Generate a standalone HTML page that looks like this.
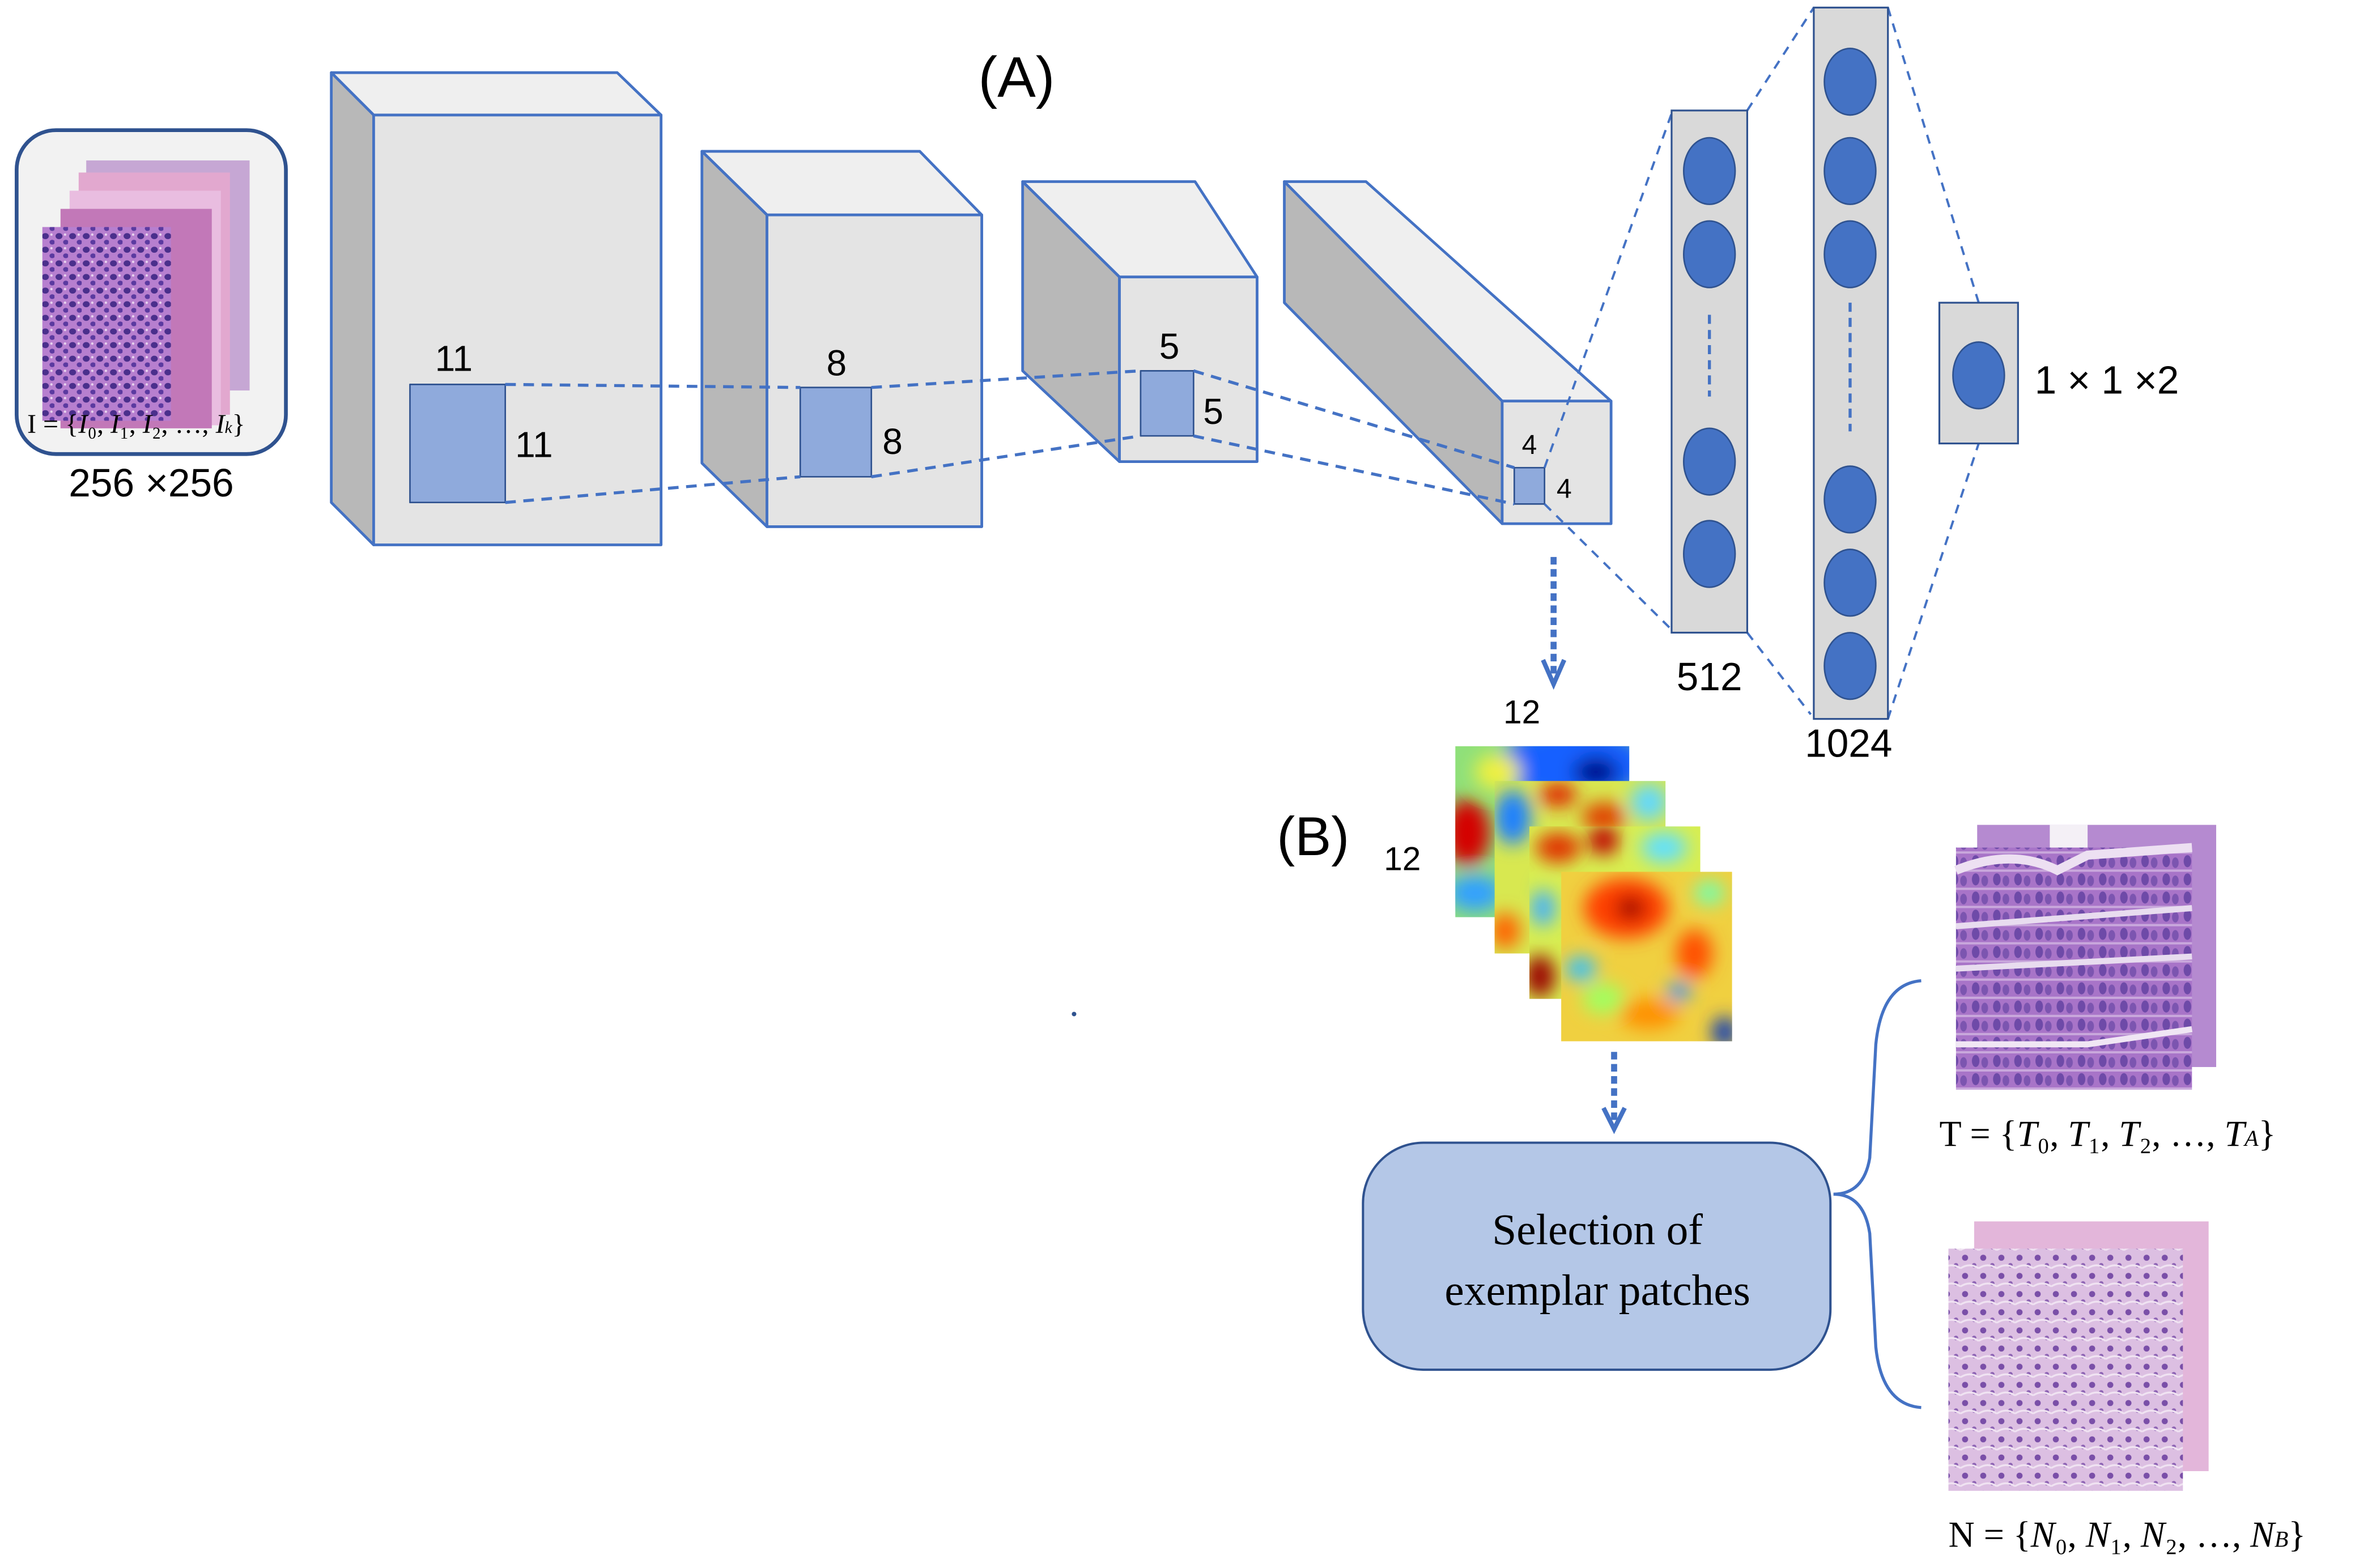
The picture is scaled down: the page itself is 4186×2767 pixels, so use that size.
<!DOCTYPE html>
<html><head><meta charset="utf-8"><style>
html,body{margin:0;padding:0;background:#fff;width:4186px;height:2767px;overflow:hidden}
svg{display:block}
text{font-family:"Liberation Sans",sans-serif;fill:#000}
.s{font-family:"Liberation Serif",serif}
</style></head><body>
<svg width="4186" height="2767" viewBox="0 0 1568 1036" preserveAspectRatio="none" xmlns="http://www.w3.org/2000/svg">
<defs>
<pattern id="cells" width="9" height="9" patternUnits="userSpaceOnUse">
<rect width="9" height="9" fill="#b77fcf"/>
<ellipse cx="3" cy="3" rx="2.3" ry="2" fill="#4a2f8c"/>
<ellipse cx="7.5" cy="7" rx="1.8" ry="1.6" fill="#5b3aa0"/>
<circle cx="7" cy="2" r="0.8" fill="#e8d4ef"/>
</pattern>
<pattern id="tum" width="14" height="12" patternUnits="userSpaceOnUse">
<rect width="14" height="12" fill="#a874c8"/>
<ellipse cx="4" cy="5" rx="2.5" ry="4" fill="#6e4aa8"/>
<ellipse cx="10" cy="6" rx="2.2" ry="3.5" fill="#7c55b0"/>
<rect y="10.5" width="14" height="1.5" fill="#c9a8dc"/>
</pattern>
<pattern id="nor" width="12" height="12" patternUnits="userSpaceOnUse">
<rect width="12" height="12" fill="#dcbfe2"/>
<circle cx="3" cy="3" r="2" fill="#7a4fa8"/>
<circle cx="9" cy="8" r="1.5" fill="#8c62b3"/>
<path d="M0 10 Q6 6 12 10" stroke="#f0e3f2" stroke-width="1.2" fill="none"/>
</pattern>
<filter id="bl"><feGaussianBlur stdDeviation="6"/></filter>
<clipPath id="c1"><rect x="962" y="493" width="115" height="113"/></clipPath>
<clipPath id="c2"><rect x="988" y="516" width="113" height="114"/></clipPath>
<clipPath id="c3"><rect x="1011" y="546" width="113" height="114"/></clipPath>
<clipPath id="c4"><rect x="1032" y="576" width="113" height="112"/></clipPath>
</defs>

<!-- input box -->
<rect x="11" y="86" width="178" height="214" rx="26" fill="#f2f2f2" stroke="#2f528f" stroke-width="2.5"/>
<rect x="57" y="106" width="108" height="152" fill="#c6a7d4"/>
<rect x="52" y="114" width="100" height="160" fill="#e2a8cf"/>
<rect x="46" y="126" width="100" height="155" fill="#e9bde0"/>
<rect x="40" y="138" width="100" height="145" fill="#c278b8"/>
<rect x="28" y="150" width="85" height="128" fill="url(#cells)"/>
<text x="18" y="286" class="s" font-size="18">I = {<tspan font-style="italic">I</tspan>₀, <tspan font-style="italic">I</tspan>₁, <tspan font-style="italic">I</tspan>₂, …, <tspan font-style="italic">I<tspan font-size="11">k</tspan></tspan>}</text>
<text x="100" y="328" font-size="26" text-anchor="middle">256 ×256</text>

<text x="672" y="64" font-size="38" text-anchor="middle">(A)</text>

<g stroke="#4472c4" stroke-width="1.8" stroke-linejoin="round">
<polygon points="219,48 408,48 437,76 247,76" fill="#efefef"/>
<polygon points="219,48 247,76 247,360 219,332" fill="#b8b8b8"/>
<rect x="247" y="76" width="190" height="284" fill="#e4e4e4"/>
<rect x="271" y="254" width="63" height="78" fill="#8faadc" stroke="#2f528f" stroke-width="1"/>
<polygon points="464,100 608,100 649,142 507,142" fill="#efefef"/>
<polygon points="464,100 507,142 507,348 464,306" fill="#b8b8b8"/>
<rect x="507" y="142" width="142" height="206" fill="#e4e4e4"/>
<rect x="529" y="256" width="47" height="59" fill="#8faadc" stroke="#2f528f" stroke-width="1"/>
<polygon points="676,120 790,120 831,183 740,183" fill="#efefef"/>
<polygon points="676,120 740,183 740,305 676,245" fill="#b8b8b8"/>
<rect x="740" y="183" width="91" height="122" fill="#e4e4e4"/>
<rect x="754" y="245" width="35" height="43" fill="#8faadc" stroke="#2f528f" stroke-width="1"/>
<polygon points="849,120 903,120 1065,265 993,265" fill="#efefef"/>
<polygon points="849,120 993,265 993,346 849,200" fill="#b8b8b8"/>
<rect x="993" y="265" width="72" height="81" fill="#e4e4e4"/>
<rect x="1001" y="309" width="20" height="24" fill="#8faadc" stroke="#2f528f" stroke-width="1"/>
</g>

<g stroke="#4472c4" stroke-width="2" stroke-dasharray="7,5" fill="none">
<line x1="334" y1="254" x2="529" y2="256"/>
<line x1="334" y1="332" x2="529" y2="315"/>
<line x1="576" y1="256" x2="754" y2="245"/>
<line x1="576" y1="315" x2="754" y2="288"/>
<line x1="789" y1="245" x2="1001" y2="309"/>
<line x1="789" y1="288" x2="1001" y2="333"/>
</g>
<g stroke="#4472c4" stroke-width="1.5" stroke-dasharray="6,5" fill="none">
<line x1="1021" y1="309" x2="1105" y2="75"/>
<line x1="1021" y1="333" x2="1105" y2="416"/>
<line x1="1155" y1="73" x2="1199" y2="5"/>
<line x1="1155" y1="418" x2="1197" y2="472"/>
<line x1="1248" y1="5" x2="1308" y2="200"/>
<line x1="1248" y1="475" x2="1308" y2="293"/>
</g>

<g font-size="24">
<text x="300" y="245" text-anchor="middle">11</text>
<text x="353" y="302" text-anchor="middle">11</text>
<text x="553" y="248" text-anchor="middle">8</text>
<text x="590" y="300" text-anchor="middle">8</text>
<text x="773" y="237" text-anchor="middle">5</text>
<text x="802" y="280" text-anchor="middle">5</text>
</g>
<text x="1011" y="300" font-size="18" text-anchor="middle">4</text>
<text x="1034" y="329" font-size="18" text-anchor="middle">4</text>

<g stroke="#2f528f" stroke-width="1.2">
<rect x="1105" y="73" width="50" height="345" fill="#d9d9d9"/>
<rect x="1199" y="5" width="49" height="470" fill="#d9d9d9"/>
<rect x="1282" y="200" width="52" height="93" fill="#d9d9d9"/>
</g>
<g fill="#4472c4" stroke="#2f528f" stroke-width="1">
<ellipse cx="1130" cy="113" rx="17" ry="22"/>
<ellipse cx="1130" cy="168" rx="17" ry="22"/>
<ellipse cx="1130" cy="305" rx="17" ry="22"/>
<ellipse cx="1130" cy="366" rx="17" ry="22"/>
<ellipse cx="1223" cy="54" rx="17" ry="22"/>
<ellipse cx="1223" cy="113" rx="17" ry="22"/>
<ellipse cx="1223" cy="168" rx="17" ry="22"/>
<ellipse cx="1223" cy="330" rx="17" ry="22"/>
<ellipse cx="1223" cy="385" rx="17" ry="22"/>
<ellipse cx="1223" cy="440" rx="17" ry="22"/>
<ellipse cx="1308" cy="248" rx="17" ry="22"/>
</g>
<g stroke="#4472c4" stroke-width="2" stroke-dasharray="6,4">
<line x1="1130" y1="208" x2="1130" y2="262"/>
<line x1="1223" y1="200" x2="1223" y2="285"/>
</g>
<text x="1130" y="456" font-size="26" text-anchor="middle">512</text>
<text x="1222" y="500" font-size="26" text-anchor="middle">1024</text>
<text x="1345" y="260" font-size="26">1 × 1 ×2</text>

<g stroke="#4472c4" stroke-width="4" fill="none">
<line x1="1027" y1="368" x2="1027" y2="446" stroke-dasharray="5,3"/>
<polyline points="1020,436 1027,452 1034,436" stroke-width="3"/>
<line x1="1067" y1="695" x2="1067" y2="740" stroke-dasharray="5,3"/>
<polyline points="1060,732 1067,746 1074,732" stroke-width="3"/>
</g>

<text x="1006" y="478" font-size="22" text-anchor="middle">12</text>
<text x="868" y="565" font-size="36" text-anchor="middle">(B)</text>
<text x="927" y="575" font-size="22" text-anchor="middle">12</text>

<g clip-path="url(#c1)"><rect x="962" y="493" width="115" height="113" fill="#8fe07a"/>
<g filter="url(#bl)"><ellipse cx="1040" cy="505" rx="50" ry="25" fill="#1560ff"/><ellipse cx="1055" cy="510" rx="15" ry="10" fill="#00008a"/><ellipse cx="970" cy="550" rx="15" ry="22" fill="#d40000"/><ellipse cx="975" cy="590" rx="18" ry="12" fill="#30a0ff"/><ellipse cx="990" cy="510" rx="15" ry="12" fill="#f0f040"/></g></g>
<g clip-path="url(#c2)"><rect x="988" y="516" width="113" height="114" fill="#d8e850"/>
<g filter="url(#bl)"><ellipse cx="1000" cy="540" rx="12" ry="18" fill="#1e80ff"/><ellipse cx="1030" cy="525" rx="12" ry="8" fill="#e02000"/><ellipse cx="1060" cy="540" rx="14" ry="10" fill="#e04000"/><ellipse cx="1090" cy="530" rx="12" ry="12" fill="#60d8ff"/><ellipse cx="995" cy="615" rx="10" ry="12" fill="#ff6000"/><ellipse cx="1030" cy="590" rx="12" ry="10" fill="#40c0ff"/></g></g>
<g clip-path="url(#c3)"><rect x="1011" y="546" width="113" height="114" fill="#d8ee50"/>
<g filter="url(#bl)"><ellipse cx="1030" cy="560" rx="15" ry="10" fill="#e03000"/><ellipse cx="1060" cy="555" rx="10" ry="10" fill="#c00000"/><ellipse cx="1100" cy="560" rx="15" ry="10" fill="#60e0ff"/><ellipse cx="1018" cy="645" rx="10" ry="14" fill="#9a0000"/><ellipse cx="1020" cy="600" rx="8" ry="12" fill="#40b0ff"/></g></g>
<g clip-path="url(#c4)"><rect x="1032" y="576" width="113" height="112" fill="#f0d040"/>
<g filter="url(#bl)"><ellipse cx="1075" cy="600" rx="28" ry="20" fill="#ff4000"/><ellipse cx="1078" cy="600" rx="10" ry="8" fill="#a00000"/><ellipse cx="1045" cy="640" rx="10" ry="8" fill="#30c0ff"/><ellipse cx="1120" cy="630" rx="12" ry="16" fill="#ff5000"/><ellipse cx="1110" cy="655" rx="8" ry="6" fill="#3090ff"/><ellipse cx="1140" cy="682" rx="8" ry="10" fill="#0030c0"/><ellipse cx="1090" cy="670" rx="20" ry="10" fill="#ff9000"/><ellipse cx="1060" cy="660" rx="14" ry="10" fill="#a0ff60"/><ellipse cx="1130" cy="590" rx="10" ry="8" fill="#70ffb0"/></g></g>

<rect x="901" y="755" width="309" height="150" rx="40" fill="#b4c7e7" stroke="#2f528f" stroke-width="1.5"/>
<text x="1056" y="822" class="s" font-size="29" text-anchor="middle">Selection of</text>
<text x="1056" y="862" class="s" font-size="29" text-anchor="middle">exemplar patches</text>

<path d="M1212 789 Q1232 789 1236 765 L1240 690 Q1244 650 1270 648 M1212 789 Q1232 789 1236 815 L1240 890 Q1244 928 1270 930" stroke="#4472c4" stroke-width="2" fill="none"/>

<rect x="1307" y="545" width="158" height="160" fill="#b58ad0"/>
<rect x="1355" y="545" width="25" height="18" fill="#f4f0f6"/>
<rect x="1293" y="560" width="156" height="160" fill="url(#tum)"/>
<path d="M1293 575 Q1330 560 1360 575 L1380 565 L1449 560" stroke="#ede0f2" stroke-width="6" fill="none"/>
<path d="M1293 612 L1449 600 M1293 640 L1449 632" stroke="#e8dcef" stroke-width="4" fill="none"/>
<path d="M1293 690 L1380 690 L1449 680" stroke="#f0e6f4" stroke-width="4" fill="none"/>
<text x="1282" y="757" class="s" font-size="24">T = {<tspan font-style="italic">T</tspan>₀, <tspan font-style="italic">T</tspan>₁, <tspan font-style="italic">T</tspan>₂, …, <tspan font-style="italic">T<tspan font-size="15">A</tspan></tspan>}</text>

<rect x="1305" y="807" width="155" height="165" fill="#e3b6da"/>
<rect x="1288" y="825" width="155" height="160" fill="url(#nor)"/>
<text x="1288" y="1022" class="s" font-size="24">N = {<tspan font-style="italic">N</tspan>₀, <tspan font-style="italic">N</tspan>₁, <tspan font-style="italic">N</tspan>₂, …, <tspan font-style="italic">N<tspan font-size="15">B</tspan></tspan>}</text>

<circle cx="710" cy="670" r="1.5" fill="#2f528f"/>
</svg>
</body></html>
